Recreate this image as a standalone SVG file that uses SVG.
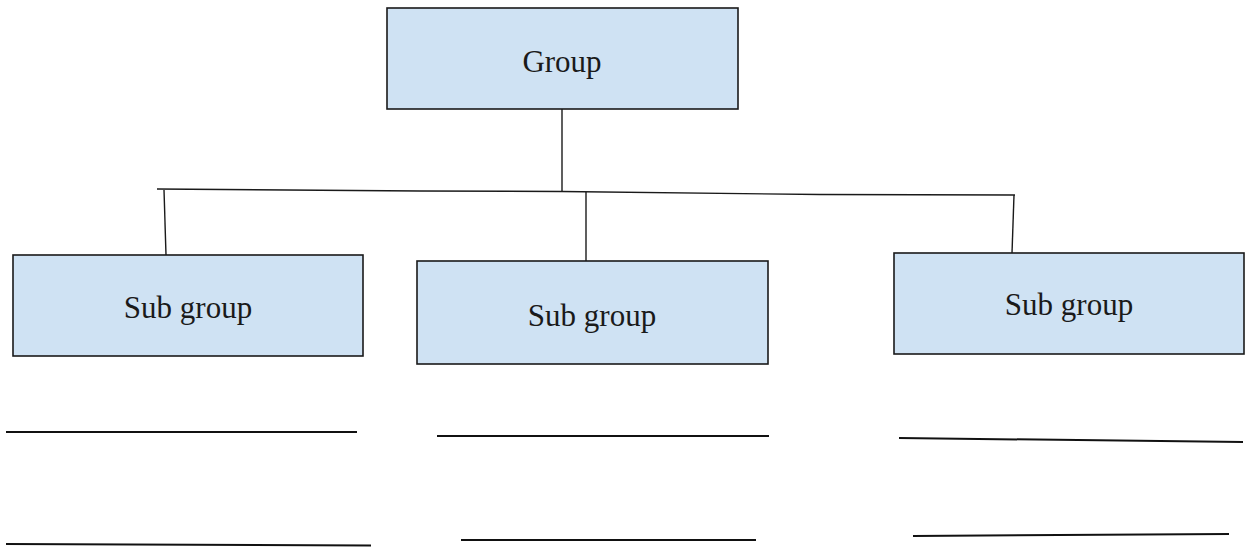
<svg xmlns="http://www.w3.org/2000/svg" width="1247" height="548" viewBox="0 0 1247 548">
  <style>
    .box { fill: #cfe2f3; stroke: #1a1a1a; stroke-width: 1.6; }
    .lbl { font-family: "Liberation Serif", "Times New Roman", serif; font-size: 31px; fill: #1a1a1a; text-anchor: middle; }
    .conn { stroke: #1a1a1a; stroke-width: 1.4; fill: none; }
    .blank { stroke: #111; stroke-width: 2; fill: none; }
  </style>
  <rect width="1247" height="548" fill="#ffffff"/>
  <g id="connectors">
    <line class="conn" x1="562" y1="109" x2="562" y2="191"/>
    <polyline class="conn" points="157,189 420,191 562,191.5 820,194.5 1015,195"/>
    <line class="conn" x1="164" y1="190" x2="166" y2="255"/>
    <line class="conn" x1="586" y1="192" x2="586" y2="261"/>
    <line class="conn" x1="1014" y1="195" x2="1012" y2="253"/>
  </g>
  <g id="group">
    <rect class="box" x="387" y="8" width="351" height="101"/>
    <text class="lbl" x="562" y="72">Group</text>
  </g>
  <g id="subgroup1">
    <rect class="box" x="13" y="255" width="350" height="101"/>
    <text class="lbl" x="188" y="318">Sub group</text>
  </g>
  <g id="subgroup2">
    <rect class="box" x="417" y="261" width="351" height="103"/>
    <text class="lbl" x="592" y="326">Sub group</text>
  </g>
  <g id="subgroup3">
    <rect class="box" x="894" y="253" width="350" height="101"/>
    <text class="lbl" x="1069" y="315">Sub group</text>
  </g>
  <g id="blanks">
    <line class="blank" x1="6" y1="432" x2="357" y2="432"/>
    <line class="blank" x1="437" y1="436" x2="769" y2="436"/>
    <line class="blank" x1="899" y1="438" x2="1243" y2="442"/>
    <line class="blank" x1="6" y1="544" x2="371" y2="545.5"/>
    <line class="blank" x1="461" y1="540" x2="756" y2="540"/>
    <line class="blank" x1="913" y1="536" x2="1229" y2="534"/>
  </g>
</svg>
